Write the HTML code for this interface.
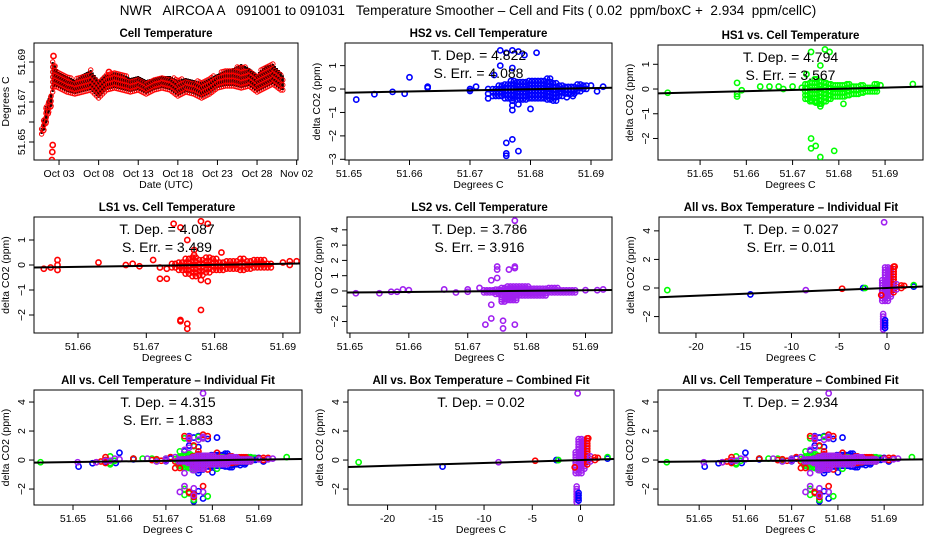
<!DOCTYPE html>
<html><head><meta charset="utf-8"><style>
html,body{margin:0;padding:0;background:#fff}
svg{display:block;font-family:"Liberation Sans",sans-serif}
</style></head><body>
<svg id="chart" width="936" height="540" viewBox="0 0 936 540" xmlns="http://www.w3.org/2000/svg">
<rect width="936" height="540" fill="#fff"/>
<text x="468" y="15" text-anchor="middle" font-size="13.5" xml:space="preserve">NWR   AIRCOA A   091001 to 091031   Temperature Smoother – Cell and Fits ( 0.02  ppm/boxC +  2.934  ppm/cellC)</text>
</svg>
<script>
// ---- time series (day of Oct, low, high) ----
const tsDays = [0.8,1.1,1.4,1.7,2.0,2.2,2.5,3,4,5,6,7,8,9,10,11,12,13,14,15,16,17,18,19,20,21,22,23,24,25,26,27,28,29,30,31,31.3];
const tsLow  = [51.654,51.656,51.660,51.665,51.668,51.675,51.678,51.677,51.675,51.674,51.675,51.676,51.672,51.676,51.677,51.676,51.675,51.676,51.674,51.676,51.677,51.676,51.673,51.675,51.674,51.672,51.674,51.677,51.678,51.678,51.677,51.678,51.675,51.677,51.679,51.676,51.676];
const tsHigh = [51.657,51.662,51.668,51.672,51.674,51.690,51.688,51.685,51.683,51.681,51.684,51.686,51.681,51.684,51.685,51.684,51.682,51.683,51.681,51.682,51.683,51.683,51.681,51.682,51.681,51.680,51.682,51.684,51.686,51.687,51.689,51.687,51.684,51.688,51.689,51.685,51.683];
const tsOutDays = [2.1,2.15,2.2,2.3,9.3];
const tsOutVals = [51.641,51.645,51.6485,51.693,51.685];

// ---- scatter points per instrument: x (cell temp), y (delta CO2) ----
const hs2X = [51.6512,51.6542,51.6572,51.6592,51.660,51.663,51.663,51.670,51.670,51.671,51.673,51.673,51.673,51.674,51.675,51.675,51.676,51.677,51.678,51.679,51.681,51.677,51.677,51.677,51.677,51.678,51.680,51.676,51.676,51.676,51.677,51.678,51.686,51.687,51.690,51.691,51.692];
const hs2Y = [-0.45,-0.22,-0.12,-0.2,0.5,0.1,0.05,0.0,-0.08,0.1,-0.4,-0.2,0.0,0.6,1.0,1.65,1.55,1.65,1.6,1.45,1.55,0.9,-0.5,-0.7,-0.9,-0.65,-0.85,-2.3,-2.75,-2.85,-2.15,-2.65,-0.35,-0.3,0.15,-0.1,0.1];
const hs2SX = [51.674,51.675,51.676,51.677,51.678,51.679,51.680,51.681,51.682,51.683,51.684,51.685,51.686,51.687,51.688,51.689];
const hs2SLo = [-0.3,-0.3,-0.4,-0.4,-0.45,-0.45,-0.4,-0.4,-0.4,-0.45,-0.5,-0.3,-0.2,-0.2,-0.1,0];
const hs2SHi = [0.1,0.2,0.3,0.35,0.4,0.4,0.45,0.4,0.35,0.45,0.3,0.25,0.2,0.2,0.3,0.15];

const hs1X = [51.643,51.658,51.658,51.658,51.659,51.663,51.665,51.667,51.668,51.670,51.672,51.674,51.677,51.678,51.676,51.673,51.674,51.675,51.676,51.681,51.674,51.674,51.675,51.676,51.679,51.696,51.689];
const hs1Y = [-0.15,0.25,-0.3,-0.2,-0.05,0.1,0.1,0.1,0.0,0.1,0.05,1.5,1.6,1.5,0.95,0.6,-0.45,-0.55,-0.7,-0.6,-2.0,-2.4,-2.3,-2.75,-2.5,0.2,0.15];
const hs1SX = [51.673,51.674,51.675,51.676,51.677,51.678,51.679,51.680,51.681,51.682,51.683,51.684,51.685,51.686,51.687,51.688];
const hs1SLo = [-0.4,-0.5,-0.5,-0.6,-0.5,-0.4,-0.3,-0.3,-0.3,-0.25,-0.2,-0.2,-0.15,-0.1,-0.1,-0.1];
const hs1SHi = [0.2,0.3,0.4,0.3,0.3,0.3,0.25,0.25,0.2,0.2,0.2,0.2,0.25,0.15,0.15,0.2];

const ls1X = [51.655,51.656,51.657,51.657,51.657,51.663,51.667,51.668,51.669,51.671,51.672,51.672,51.673,51.673,51.674,51.675,51.676,51.675,51.675,51.676,51.676,51.678,51.679,51.678,51.678,51.679,51.681,51.677,51.677,51.690,51.691,51.692,51.691];
const ls1Y = [-0.15,-0.1,0.2,-0.2,0.0,0.1,0.0,0.05,-0.05,0.2,-0.1,-0.55,-0.55,-0.15,1.65,1.5,1.0,-2.25,-2.2,-2.35,-2.55,1.75,1.65,-1.8,-0.6,-0.65,0.5,0.6,0.4,0.1,0.15,0.15,0.0];
const ls1SX = [51.674,51.675,51.676,51.677,51.678,51.679,51.680,51.681,51.682,51.683,51.684,51.685,51.686,51.687,51.688];
const ls1SLo = [-0.1,-0.2,-0.35,-0.45,-0.4,-0.3,-0.2,-0.2,-0.15,-0.15,-0.2,-0.15,-0.1,-0.1,-0.1];
const ls1SHi = [0.1,0.2,0.3,0.35,0.3,0.35,0.3,0.2,0.2,0.2,0.25,0.2,0.2,0.2,0.15];

const ls2X = [51.651,51.655,51.657,51.658,51.659,51.660,51.666,51.668,51.670,51.670,51.672,51.674,51.674,51.674,51.673,51.675,51.675,51.675,51.677,51.678,51.678,51.676,51.676,51.678,51.678,51.690,51.692,51.693];
const ls2Y = [-0.15,-0.15,-0.05,-0.05,0.1,0.05,0.1,-0.1,0.1,-0.05,0.2,0.7,-0.9,-1.8,-2.2,0.85,1.6,1.4,1.4,1.6,1.5,-1.95,-2.45,-2.2,4.6,0.05,0.05,0.1];
const ls2SX = [51.673,51.674,51.675,51.676,51.677,51.678,51.679,51.680,51.681,51.682,51.683,51.684,51.685,51.686,51.687,51.688];
const ls2SLo = [-0.1,-0.1,-0.2,-0.7,-0.6,-0.6,-0.3,-0.3,-0.3,-0.3,-0.3,-0.1,-0.1,-0.1,-0.1,-0.1];
const ls2SHi = [0.1,0.1,0.1,0.3,0.4,0.3,0.3,0.3,0.2,0.2,0.2,0.2,0.2,0.1,0.1,0.1];

// ---- box temperature points ----
const boxX = [-23,-14.3,-8.5,-4.7,-2.5,-2.3,2.8,2.8,1.8,-0.6,0.8,-0.3];
const boxY = [-0.15,-0.45,-0.15,-0.05,0.0,0.0,0.1,0.2,0.15,-0.5,1.5,4.6];
const boxC = ["g","b","p","r","b","g","b","g","r","r","r","p"];
const boxSX = [-0.5,-0.2,0.1,0.4,0.7,1.0,1.5,-0.4,-0.2];
const boxSLo = [-0.9,-0.9,-0.9,-0.6,-0.3,-0.1,0,-2.9,-2.8];
const boxSHi = [0.6,1.6,1.6,1.5,1.5,0.3,0.2,-1.8,-2.2];
const boxSC = ["p","p","p","p","r","p","r","p","b"];

// ---- fit slopes & pivots ----
const fitSlopes = {hs2:4.822, hs1:4.794, ls1:4.087, ls2:3.786, boxInd:0.027, cellInd:4.315, boxComb:0.02, cellComb:2.934};
const fitPivots = {hs2:51.682, hs1:51.678, ls1:51.678, ls2:51.677, boxInd:0, cellInd:51.682, boxComb:0, cellComb:51.683};

const NS="http://www.w3.org/2000/svg";
const svg=document.getElementById('chart');
const COL={b:"#0000ff",g:"#00ff00",r:"#ff0000",p:"#a020f0"};
function mk(tag,attrs,parent){const e=document.createElementNS(NS,tag);for(const k in attrs)e.setAttribute(k,attrs[k]);(parent||svg).appendChild(e);return e;}
function txt(s,attrs,parent){const e=mk('text',attrs,parent);e.textContent=s;return e;}

function panel(cfg){
  const g=mk('g',{});
  
  
  const sx=v=>cfg.l+(v-cfg.x0)/(cfg.x1-cfg.x0)*(cfg.r-cfg.l);
  const sy=v=>cfg.b-(v-cfg.y0)/(cfg.y1-cfg.y0)*(cfg.b-cfg.t);
  const t=txt(cfg.title,{x:(cfg.l+cfg.r)/2,y:cfg.t-6,'text-anchor':'middle','font-size':11.5,'font-weight':'bold'},g);
  
  
  const fr=mk('rect',{x:cfg.l,y:cfg.t,width:cfg.r-cfg.l,height:cfg.b-cfg.t,fill:'none',stroke:'#000','stroke-width':1},g);
  
  
  cfg.xt.forEach((v,i)=>{const x=sx(v);mk('line',{x1:x,x2:x,y1:cfg.b,y2:cfg.b+5,stroke:'#000'},g);
    const lb=txt(cfg.xl[i],{x:x,y:cfg.b+17,'text-anchor':'middle','font-size':10.5},g);
    
    });
  cfg.yt.forEach((v,i)=>{const y=sy(v);mk('line',{x1:cfg.l,x2:cfg.l-5,y1:y,y2:y,stroke:'#000'},g);
    if(cfg.yl[i]!==''){const lb=txt(cfg.yl[i],{x:cfg.l-9,y:y,'text-anchor':'middle','font-size':10.5,transform:`rotate(-90 ${cfg.l-9} ${y})`},g);
    
    }});
  const xa=txt(cfg.xlab,{x:(cfg.l+cfg.r)/2,y:cfg.b+28,'text-anchor':'middle','font-size':10.5},g);
  
  
  const yx=cfg.l-25,yy=(cfg.t+cfg.b)/2;
  const ya=txt(cfg.ylab,{x:yx,y:yy,'text-anchor':'middle','font-size':10.5,transform:`rotate(-90 ${yx} ${yy})`},g);
  
  
  const clip='c'+cfg.name;
  const cp=mk('clipPath',{id:clip},g);mk('rect',{x:cfg.l,y:cfg.t,width:cfg.r-cfg.l,height:cfg.b-cfg.t},cp);
  const pg=mk('g',{'clip-path':`url(#${clip})`},g);
  return {g,pg,sx,sy,cfg};
}
function series(P,X,Y,SX,SLo,SHi,c,name){
  const sg=mk('g',{},P.pg);
  
  
  SX.forEach((x,i)=>{for(let dx=-0.00025;dx<=0.00026;dx+=0.0005){for(let y=SLo[i];y<=SHi[i]+1e-9;y+=0.15){
    mk('circle',{cx:P.sx(x+dx),cy:P.sy(y),r:2.5,fill:'none',stroke:c,'stroke-width':1.5},sg);}}});
  X.forEach((x,i)=>{mk('circle',{cx:P.sx(x),cy:P.sy(Y[i]),r:2.6,fill:'none',stroke:c,'stroke-width':1.6},sg);});
}
function boxSeries(P){
  const sg=mk('g',{},P.pg);
  
  
  boxSX.forEach((x,i)=>{for(let y=boxSLo[i];y<=boxSHi[i]+1e-9;y+=0.18){
    mk('circle',{cx:P.sx(x),cy:P.sy(y),r:2.6,fill:'none',stroke:COL[boxSC[i]],'stroke-width':1.5},sg);}});
  boxX.forEach((x,i)=>{mk('circle',{cx:P.sx(x),cy:P.sy(boxY[i]),r:2.6,fill:'none',stroke:COL[boxC[i]],'stroke-width':1.6},sg);});
}
function fit(P,key){
  const c=P.cfg,s=fitSlopes[key],p=fitPivots[key];
  const e=mk('line',{x1:P.sx(c.x0),y1:P.sy(s*(c.x0-p)),x2:P.sx(c.x1),y2:P.sy(s*(c.x1-p)),stroke:'#000','stroke-width':2},P.pg);
  
  
}
function stats(P,lines){
  lines.forEach((s,i)=>{const e=txt(s,{x:(P.cfg.l+P.cfg.r)/2,y:P.cfg.t+17+i*18,'text-anchor':'middle','font-size':14},P.g);
    
    });
}
const cellT=[51.65,51.66,51.67,51.68,51.69], cellL=cellT.map(v=>v.toFixed(2));
const boxT=[-20,-15,-10,-5,0], boxL=boxT.map(String);
const DC='Degrees C', DCO='delta CO2 (ppm)';

const P1=panel({name:'cell-temperature-panel',title:'Cell Temperature',l:34,r:298,t:43,b:160,x0:-0.16,x1:33.17,y0:51.641,y1:51.6995,
  xt:[3,8,13,18,23,28,33],xl:['Oct 03','Oct 08','Oct 13','Oct 18','Oct 23','Oct 28','Nov 02'],
  yt:[51.65,51.66,51.67,51.68,51.69],yl:['51.65','','51.67','','51.69'],xlab:'Date (UTC)',ylab:'Degrees C'});
{
  const sg=mk('g',{},P1.pg);
  
  
  for(let i=0;i<tsDays.length-1;i++){
    for(let d=tsDays[i];d<tsDays[i+1]-1e-9;d+=0.25){
      const f=(d-tsDays[i])/(tsDays[i+1]-tsDays[i]);
      const lo=tsLow[i]+(tsLow[i+1]-tsLow[i])*f, hi=tsHigh[i]+(tsHigh[i+1]-tsHigh[i])*f;
      mk('line',{x1:P1.sx(d),x2:P1.sx(d),y1:P1.sy(lo),y2:P1.sy(hi),stroke:'#200','stroke-width':2.2},sg);
      for(let v=lo;v<=hi+1e-9;v+=0.0025){mk('circle',{cx:P1.sx(d),cy:P1.sy(v),r:2.2,fill:'none',stroke:'#ff0000','stroke-width':1},sg);}
    }
  }
  tsOutDays.forEach((d,i)=>{mk('circle',{cx:P1.sx(d),cy:P1.sy(tsOutVals[i]),r:2.6,fill:'none',stroke:'#ff0000','stroke-width':1.6},sg);});
}
const P2=panel({name:'hs2-panel',title:'HS2 vs. Cell Temperature',l:345,r:612,t:43,b:160,x0:51.64934,x1:51.69347,y0:-3.03,y1:1.966,
  xt:cellT,xl:cellL,yt:[-3,-2,-1,0,1],yl:['−3','−2','−1','0','1'],xlab:DC,ylab:DCO});
series(P2,hs2X,hs2Y,hs2SX,hs2SLo,hs2SHi,COL.b,'hs2-points');fit(P2,'hs2');stats(P2,['T. Dep. =  4.822','S. Err. =  4.088']);
const P3=panel({name:'hs1-panel',title:'HS1 vs. Cell Temperature',l:658,r:923,t:45,b:160,x0:51.6409,x1:51.6982,y0:-2.87,y1:1.78,
  xt:cellT,xl:cellL,yt:[-2,-1,0,1],yl:['−2','−1','0','1'],xlab:DC,ylab:DCO});
series(P3,hs1X,hs1Y,hs1SX,hs1SLo,hs1SHi,COL.g,'hs1-points');fit(P3,'hs1');stats(P3,['T. Dep. =  4.794','S. Err. =  3.567']);
const P4=panel({name:'ls1-panel',title:'LS1 vs. Cell Temperature',l:34,r:300,t:217,b:333,x0:51.65356,x1:51.6925,y0:-2.72,y1:1.92,
  xt:[51.66,51.67,51.68,51.69],xl:['51.66','51.67','51.68','51.69'],yt:[-2,-1,0,1],yl:['−2','−1','0','1'],xlab:DC,ylab:DCO});
series(P4,ls1X,ls1Y,ls1SX,ls1SLo,ls1SHi,COL.r,'ls1-points');fit(P4,'ls1');stats(P4,['T. Dep. =  4.087','S. Err. =  3.489']);
const P5=panel({name:'ls2-panel',title:'LS2 vs. Cell Temperature',l:347,r:612,t:217,b:333,x0:51.6495,x1:51.6945,y0:-2.75,y1:4.84,
  xt:cellT,xl:cellL,yt:[-2,-1,0,1,2,3,4],yl:['−2','','0','1','2','3','4'],xlab:DC,ylab:DCO});
series(P5,ls2X,ls2Y,ls2SX,ls2SLo,ls2SHi,COL.p,'ls2-points');fit(P5,'ls2');stats(P5,['T. Dep. =  3.786','S. Err. =  3.916']);
const P6=panel({name:'box-individual-panel',title:'All vs. Box Temperature – Individual Fit',l:659,r:923,t:217,b:333,x0:-23.87,x1:3.77,y0:-3.15,y1:4.97,
  xt:boxT,xl:boxL,yt:[-2,0,2,4],yl:['−2','0','2','4'],xlab:DC,ylab:DCO});
boxSeries(P6);fit(P6,'boxInd');stats(P6,['T. Dep. =  0.027','S. Err. =  0.011']);
const P7=panel({name:'cell-individual-panel',title:'All vs. Cell Temperature – Individual Fit',l:34,r:302,t:390,b:505,x0:51.6416,x1:51.6993,y0:-3.10,y1:4.83,
  xt:cellT,xl:cellL,yt:[-2,0,2,4],yl:['−2','0','2','4'],xlab:DC,ylab:DCO});
function allSeries(P){series(P,hs2X,hs2Y,hs2SX,hs2SLo,hs2SHi,COL.b,'hs2-points');series(P,hs1X,hs1Y,hs1SX,hs1SLo,hs1SHi,COL.g,'hs1-points');
  series(P,ls1X,ls1Y,ls1SX,ls1SLo,ls1SHi,COL.r,'ls1-points');series(P,ls2X,ls2Y,ls2SX,ls2SLo,ls2SHi,COL.p,'ls2-points');}
allSeries(P7);fit(P7,'cellInd');stats(P7,['T. Dep. =  4.315','S. Err. =  1.883']);
const P8=panel({name:'box-combined-panel',title:'All vs. Box Temperature – Combined Fit',l:348,r:614,t:390,b:505,x0:-24.1,x1:3.47,y0:-3.10,y1:4.83,
  xt:boxT,xl:boxL,yt:[-2,0,2,4],yl:['−2','0','2','4'],xlab:DC,ylab:DCO});
boxSeries(P8);fit(P8,'boxComb');stats(P8,['T. Dep. =  0.02']);
const P9=panel({name:'cell-combined-panel',title:'All vs. Cell Temperature – Combined Fit',l:658,r:923,t:390,b:505,x0:51.6411,x1:51.6984,y0:-3.10,y1:4.83,
  xt:cellT,xl:cellL,yt:[-2,0,2,4],yl:['−2','0','2','4'],xlab:DC,ylab:DCO});
allSeries(P9);fit(P9,'cellComb');stats(P9,['T. Dep. =  2.934']);
</script>
</body></html>
